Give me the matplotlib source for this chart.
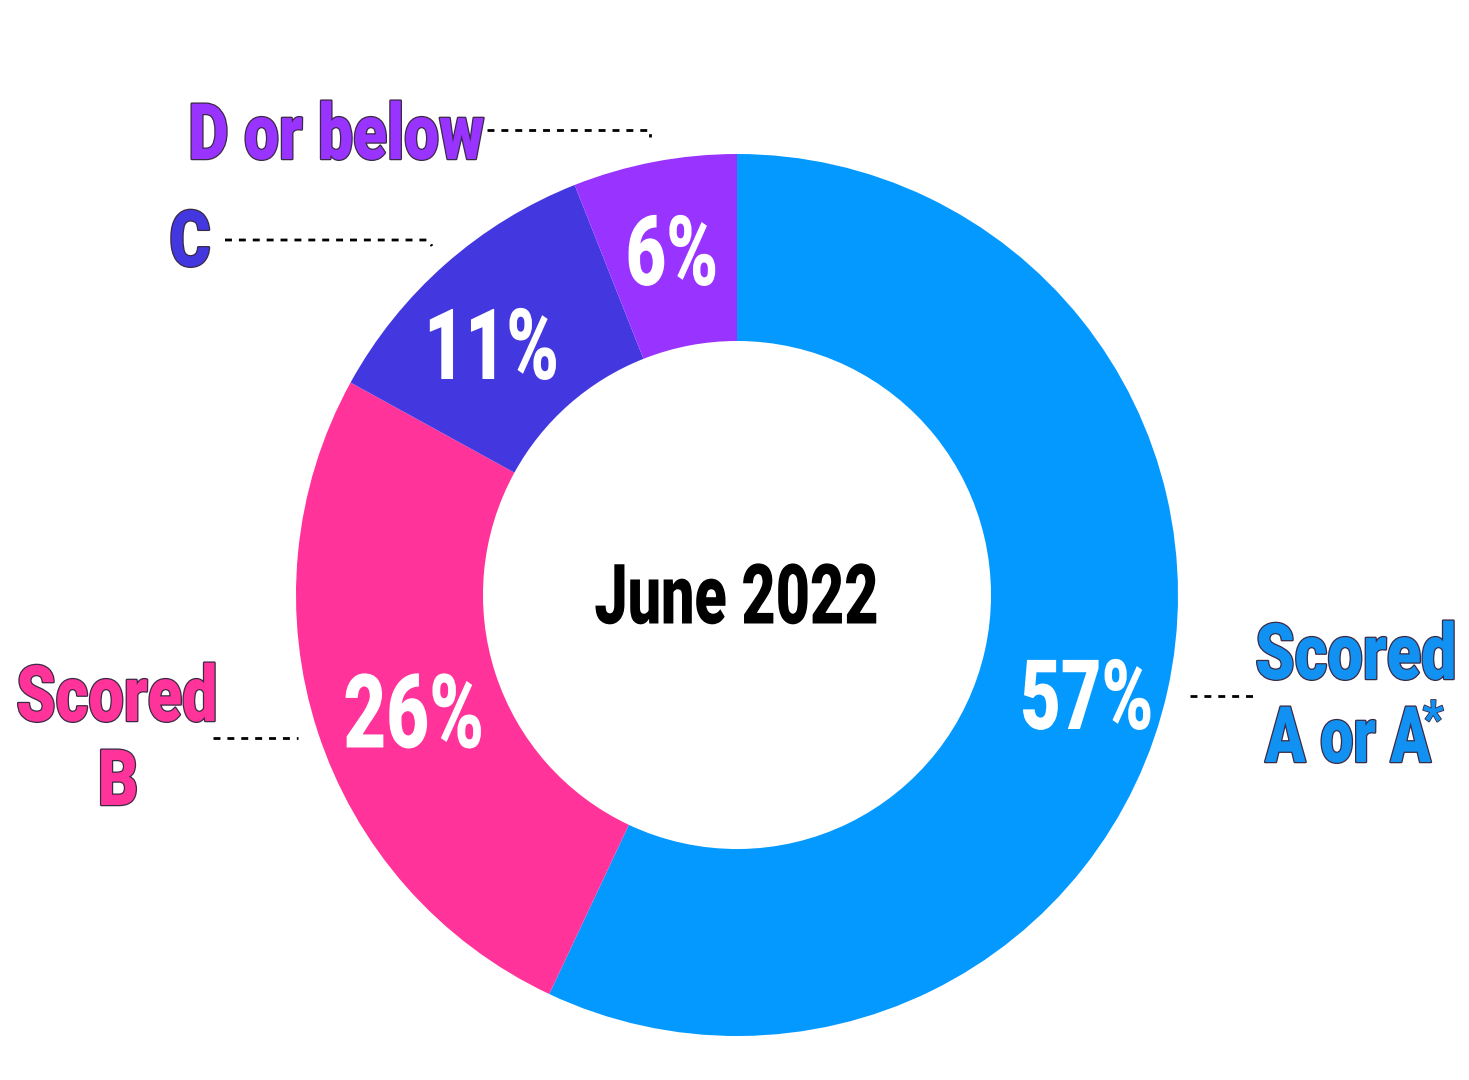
import matplotlib.pyplot as plt
import matplotlib.patheffects as pe
from matplotlib.transforms import Affine2D

# shares of grades, June 2022
grades = ['A or A*', 'B', 'C', 'D or below']
shares = [57, 26, 11, 6]
colors = ['#0499FF', '#FF3399', '#4338DF', '#9933FF']
label_colors = ['#1192F2', '#FF3399', '#4338DF', '#9933FF']
title = 'June 2022'

plt.rcParams['font.family'] = ['Roboto', 'DejaVu Sans']


class Squeeze(pe.AbstractPathEffect):
    # narrows the glyphs about their centre, optional outline under the fill
    def __init__(self, sx=0.75, stroke=None, lw=2):
        super().__init__()
        self.sx, self.stroke, self.lw = sx, stroke, lw

    def draw_path(self, renderer, gc, tpath, affine, rgbFace=None):
        ext = tpath.get_extents()
        mid = (ext.x0 + ext.x1) / 2
        tr = Affine2D().translate(-mid, 0).scale(self.sx, 1).translate(mid, 0) + affine
        if self.stroke is not None:
            gc0 = renderer.new_gc()
            gc0.copy_properties(gc)
            gc0.set_foreground(self.stroke)
            gc0.set_linewidth(self.lw)
            renderer.draw_path(gc0, tpath, tr, rgbFace)
            gc0.restore()
        renderer.draw_path(gc, tpath, tr, rgbFace)


W, H = 1469, 1080
fig = plt.figure(figsize=(W / 100, H / 100), dpi=100)
ax = fig.add_axes([0, 0, 1, 1])

cx, cy, R = 737, H - 595, 441
pcts = iter(shares)
wedges, texts, autotexts = ax.pie(
    shares, colors=colors, startangle=90, counterclock=False,
    center=(cx, cy), radius=R, frame=True,
    wedgeprops=dict(width=R * 0.424, linewidth=0),
    autopct=lambda p: '%d%%' % next(pcts), pctdistance=0.79,
    textprops=dict(color='white', fontsize=70, fontweight='black'))
# label spots (pixels from top-left)
pct_xy = [(1087, 703), (414, 719), (491, 352), (672, 259)]
pct_size = [70, 74, 71, 70]
for t, (x, y), s in zip(autotexts, pct_xy, pct_size):
    t.set_position((x, H - y))
    t.set_fontsize(s)
    t.set_path_effects([Squeeze(0.72)])
ax.set_xlim(0, W)
ax.set_ylim(0, H)
ax.set_aspect('equal')
ax.axis('off')

ax.text(cx, H - 601, title, ha='center', va='center', fontsize=60,
        fontweight='black', color='black', path_effects=[Squeeze(0.71)])

lab = dict(fontsize=56, fontweight='black', ha='center', va='center',
           path_effects=[Squeeze(0.81, stroke='#3b2a45', lw=1.8)])
dots = dict(color='black', lw=2, linestyle=(0, (2.5, 2.5)))

# A or A*
ax.text(1356, H - 658, 'Scored', color=label_colors[0], **lab)
ax.text(1348, H - 741, 'A or A', color=label_colors[0],
        **{**lab, 'path_effects': [Squeeze(0.76, stroke='#3b2a45', lw=1.8)]})
ax.text(1433, H - 722, '*', color=label_colors[0],
        **{**lab, 'fontsize': 36, 'path_effects': [Squeeze(0.9, stroke='#3b2a45', lw=1.2)]})
ax.plot([1190, 1255], [H - 696, H - 696], **dots)
# B
ax.text(117, H - 700, 'Scored', color=label_colors[1], **lab)
ax.text(118, H - 784, 'B', color=label_colors[1], **lab)
ax.plot([213, 298], [H - 738, H - 738], **dots)
# C
ax.text(190, H - 245, 'C', color=label_colors[2], **lab)
ax.plot([225, 428, 432], [H - 240, H - 240, H - 246], **dots)
# D or below
ax.text(336, H - 138, 'D or below', color=label_colors[3],
        **{**lab, 'path_effects': [Squeeze(0.8, stroke='#3b2a45', lw=1.8)]})
ax.plot([487, 650, 650], [H - 130, H - 130, H - 137], **dots)

fig.savefig('out.png', dpi=100, facecolor='white')
